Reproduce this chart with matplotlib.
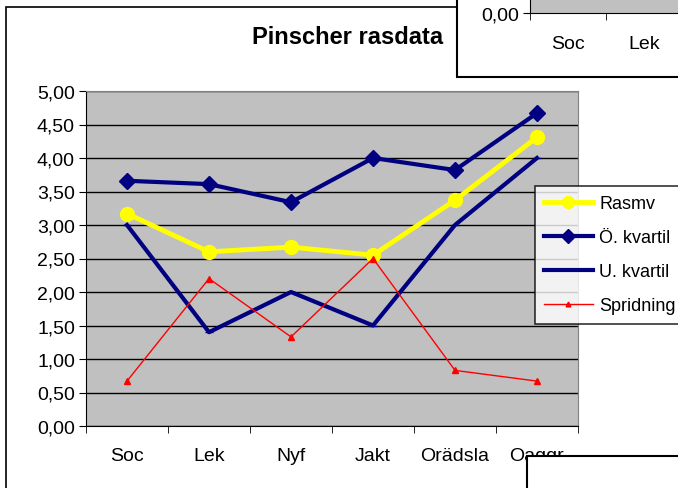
import matplotlib
matplotlib.use("Agg")
import matplotlib.pyplot as plt
from matplotlib.patches import Rectangle
from matplotlib.ticker import FuncFormatter, MultipleLocator, FixedLocator

plt.rcParams['font.family'] = ['Liberation Sans', 'DejaVu Sans']

categories = ["Soc", "Lek", "Nyf", "Jakt", "Orädsla", "Oaggr"]
rasmv = [3.17, 2.60, 2.67, 2.55, 3.37, 4.31]
o_kvartil = [3.66, 3.61, 3.34, 4.00, 3.82, 4.67]
u_kvartil = [3.00, 1.40, 2.00, 1.50, 3.00, 4.00]
spridning = [0.67, 2.20, 1.33, 2.50, 0.83, 0.67]
title = "Pinscher rasdata"
mini_categories = ["Soc", "Lek", "Nyf"]

W, H = 678, 489
fig = plt.figure(figsize=(W / 100, H / 100), dpi=100)
fig.patch.set_facecolor("white")


def fx(x):
    return x / W


def fy(y):
    return 1 - y / H


# main chart frame
fig.patches.append(Rectangle((fx(6), fy(520)), fx(720), fy(8) - fy(520),
                             transform=fig.transFigure, facecolor="white",
                             edgecolor="black", lw=1.2, zorder=-5))

fig.text(fx(348), fy(38), title, ha="center", va="center", fontsize=17,
         fontweight="bold")

L, R, T, B = 86, 578, 92, 427
ax = fig.add_axes([fx(L), fy(B), fx(R - L), fy(T) - fy(B)])
ax.set_facecolor("#C0C0C0")
for s in ax.spines.values():
    s.set_color("#808080")
ax.spines["left"].set_color("black")
ax.spines["bottom"].set_color("black")
x = list(range(len(categories)))
ax.set_xlim(-0.5, len(categories) - 0.5)
ax.set_ylim(0, 5)
ax.yaxis.set_major_locator(MultipleLocator(0.5))
ax.yaxis.set_major_formatter(FuncFormatter(lambda v, p: f"{v:.2f}".replace(".", ",")))
ax.grid(axis="y", color="black", lw=1)
ax.set_axisbelow(True)
ax.set_xticks(x)
ax.set_xticklabels(categories)
ax.xaxis.set_minor_locator(FixedLocator([i - 0.5 for i in range(len(categories) + 1)]))
ax.tick_params(axis="x", which="major", length=0, labelsize=14, pad=15)
ax.tick_params(axis="x", which="minor", length=5, direction="out")
ax.tick_params(axis="y", length=5, direction="out", labelsize=14, pad=3)

l1, = ax.plot(x, rasmv, color="#FFFF00", lw=3.5, marker="o", ms=10, label="Rasmv", zorder=3)
l2, = ax.plot(x, o_kvartil, color="#000080", lw=3, marker="D", ms=8, label="Ö. kvartil", zorder=3)
l3, = ax.plot(x, u_kvartil, color="#000080", lw=3, marker="_", ms=6, label="U. kvartil", zorder=3)
l4, = ax.plot(x, spridning, color="#FF0000", lw=1, marker="^", ms=4, label="Spridning", zorder=3)

leg = fig.legend(handles=[l1, l2, l3, l4], loc="upper left",
                 bbox_to_anchor=(fx(535), fy(187)), bbox_transform=fig.transFigure,
                 fontsize=13, frameon=True, fancybox=False, handlelength=2.7,
                 labelspacing=0.95, borderpad=0.5, handletextpad=0.35,
                 borderaxespad=0, markerscale=0.85)
leg.get_frame().set_edgecolor("black")
leg.get_frame().set_linewidth(1.2)
leg.set_zorder(10)

# overlapping chart box at top right
fig.patches.append(Rectangle((fx(457), fy(78)), fx(300), fy(-20) - fy(78),
                             transform=fig.transFigure, facecolor="white",
                             edgecolor="black", lw=1.5, zorder=20))
cw = 76
mini = fig.add_axes([fx(530), fy(14), fx(200), fy(-80) - fy(14)], zorder=21)
mini.set_facecolor("#C0C0C0")
mini.set_xlim(-0.5, -0.5 + 200 / cw)
mini.set_ylim(0, 5)
mini.set_yticks([0])
mini.yaxis.set_major_formatter(FuncFormatter(lambda v, p: f"{v:.2f}".replace(".", ",")))
mini.set_xticks(range(len(mini_categories)))
mini.set_xticklabels(mini_categories)
mini.xaxis.set_minor_locator(FixedLocator([i - 0.5 for i in range(len(mini_categories) + 1)]))
mini.tick_params(axis="x", which="major", length=0, labelsize=14, pad=16)
mini.tick_params(axis="x", which="minor", length=5, direction="out")
mini.tick_params(axis="y", length=5, labelsize=14, pad=3)
for s in mini.spines.values():
    s.set_color("#808080")
mini.spines["left"].set_color("black")
mini.spines["bottom"].set_color("black")

# overlapping box at bottom right
fig.patches.append(Rectangle((fx(527), fy(560)), fx(300), fy(457) - fy(560),
                             transform=fig.transFigure, facecolor="white",
                             edgecolor="black", lw=1.5, zorder=20))

fig.savefig("out.png", dpi=100)
